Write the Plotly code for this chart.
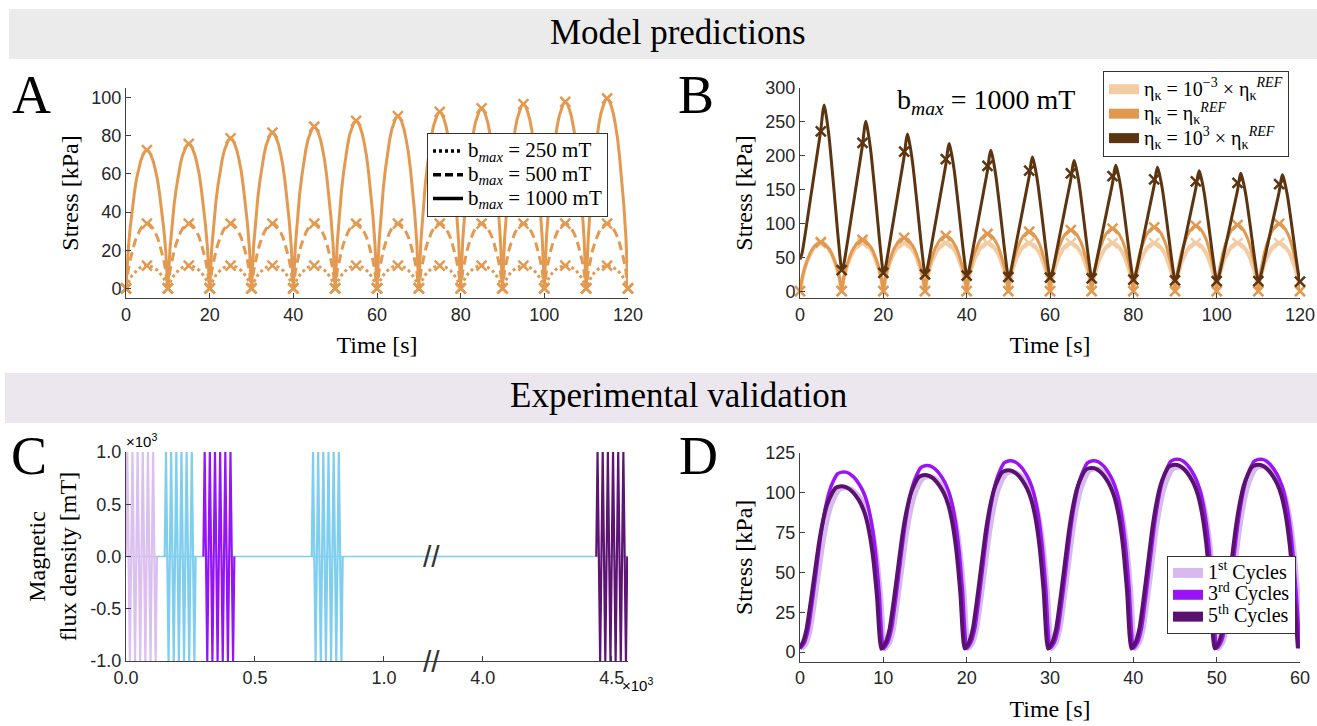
import plotly.graph_objects as go

W, H = 1317, 726

# ---------------- Panel A: model predictions, three field amplitudes ----------------
A_CYCLE_START = [0, 10, 20, 30, 40, 50, 60, 70, 80, 90, 100, 110]
A_ARCH_DT = [0, 0.5, 1, 1.5, 2, 2.5, 3, 3.5, 4, 4.5, 5, 5.5, 6, 6.5, 7, 7.5, 8, 8.5, 9, 9.5, 10]
A_ARCH_SHAPE = [0, 0.27, 0.44, 0.58, 0.69, 0.79, 0.86, 0.92, 0.96, 0.99, 1.0,
                0.99, 0.96, 0.92, 0.86, 0.79, 0.69, 0.58, 0.44, 0.27, 0]
A_PEAK_250 = [12, 12, 12, 12, 12, 12, 12, 12, 12, 12, 12, 12]
A_PEAK_500 = [34, 34, 34, 34, 34, 34, 34, 34, 34, 34, 34, 34]
A_PEAK_1000 = [72.5, 75.7, 78.6, 81.6, 84.7, 87.8, 90.3, 92.5, 94.3, 96.5, 97.7, 99.5]
A_ZERO_T = [0, 10, 20, 30, 40, 50, 60, 70, 80, 90, 100, 110, 120]
A_LABELS = ["b<sub><i>max</i></sub> = 250 mT",
            "b<sub><i>max</i></sub> = 500 mT",
            "b<sub><i>max</i></sub> = 1000 mT"]

# ---------------- Panel B: model predictions, three viscosities ----------------
B_PEAK_LOW = [71, 71, 71, 71, 71, 71, 71, 71, 71, 71, 71, 71]
B_PEAK_REF = [72.5, 75.7, 78.6, 81.6, 84.7, 87.8, 90.3, 92.5, 94.3, 96.5, 97.7, 99.5]
B_HIGH_START = 47
B_HIGH_MIN = [31, 27, 25, 23, 21, 20, 19, 17, 16, 15, 15, 14]          # at t = 10 ... 120
B_HIGH_PEAK = [275, 251, 232, 218, 208, 198, 193, 186, 183, 178, 174, 172]
B_HIGH_MARK = [236, 219, 206, 195, 185, 178, 174, 170, 165, 162, 160, 158]  # at t = 5 ... 115
B_RISE_DT = [0, 0.5, 1, 2, 3, 4, 5, 5.5, 5.8]
B_RISE_SHAPE = [0, 0.04, 0.12, 0.3, 0.48, 0.66, 0.84, 0.96, 1.0]
B_FALL_DT = [6.2, 7, 8, 9, 9.6, 10]
B_FALL_SHAPE = [0.95, 0.8, 0.53, 0.24, 0.08, 0]
B_LABELS = ["η<sub>κ</sub> = 10<sup>−3</sup> × η<sub>κ</sub><sup><i>REF</i></sup>",
            "η<sub>κ</sub> = η<sub>κ</sub><sup><i>REF</i></sup>",
            "η<sub>κ</sub> = 10<sup>3</sup> × η<sub>κ</sub><sup><i>REF</i></sup>"]

# ---------------- Panel C: applied magnetic flux density ----------------
C_BURST_T = [0, 5, 15, 25, 35, 45, 55, 65, 75, 85, 95, 105, 115, 120]
C_BURST_B = [0, 1000, -1000, 1000, -1000, 1000, -1000, 1000, -1000, 1000, -1000, 1000, -1000, 0]
C_BURST_START = [0, 150, 300, 720, 4440]
C_BASE_T = [0, 4563]
C_BASE_B = [0, 0]
C_LEFT_TICKS = [0, 500, 1000]
C_LEFT_TICKTEXT = ["0.0", "0.5", "1.0"]
C_RIGHT_TICKS = [4000, 4500]
C_RIGHT_TICKTEXT = ["4.0", "4.5"]
C_Y_TICKS = [-1000, -500, 0, 500, 1000]
C_Y_TICKTEXT = ["-1.0", "-0.5", "0.0", "0.5", "1.0"]

# ---------------- Panel D: experimental stress ----------------
D_CYCLE_START = [0, 10, 20, 30, 40, 50]
D_ARCH_DT = [0, 0.5, 1, 1.5, 2, 2.5, 3, 3.5, 4, 4.5, 5, 5.5, 6, 6.5, 7, 7.5, 8, 8.5, 9, 9.5, 10]
D_ARCH_SHAPE = [0.02, 0.05, 0.13, 0.29, 0.47, 0.65, 0.79, 0.89, 0.95, 0.99, 1.0,
                1.0, 0.99, 0.97, 0.94, 0.9, 0.84, 0.74, 0.58, 0.33, 0.02]
D_PEAK_1ST = [103, 110, 113, 115, 116, 116.5]
D_PEAK_3RD = [113, 117, 120, 120, 121, 121]
D_PEAK_5TH = [104, 111, 114, 115.5, 117.5, 117.5]
D_SHIFT = {"1st": 0.2, "3rd": 0.0, "5th": -0.25}
D_LABELS = ["1<sup>st</sup> Cycles", "3<sup>rd</sup> Cycles", "5<sup>th</sup> Cycles"]

# ---------------- colours ----------------
ORANGE = "#e39a50"
B_COLORS = ["#f3cca3", "#e1984f", "#5c3410"]
C_COLORS = ["#dbbff0", "#7fcdef", "#9414f7", "#7fcdef", "#5e1473"]
D_COLORS = ["#d8b9ee", "#9b14f5", "#5a1270"]
AXC = "#404040"
SERIF = "Liberation Serif"
SANS = "Liberation Sans"


def arches(starts, dts, shape, peaks, shift=0.0):
    xs, ys = [], []
    for k, (s, p) in enumerate(zip(starts, peaks)):
        for j, (dt, f) in enumerate(zip(dts, shape)):
            if k > 0 and j == 0:
                continue
            xs.append(s + dt + shift)
            ys.append(p * f)
    return xs, ys


def high_visc_curve():
    xs, ys = [], []
    left = B_HIGH_START
    for k in range(len(B_HIGH_PEAK)):
        s = A_CYCLE_START[k]
        P, R = B_HIGH_PEAK[k], B_HIGH_MIN[k]
        for j, (dt, f) in enumerate(zip(B_RISE_DT, B_RISE_SHAPE)):
            if k > 0 and j == 0:
                continue
            xs.append(s + dt)
            ys.append(left + f * (P - left))
        for dt, f in zip(B_FALL_DT, B_FALL_SHAPE):
            xs.append(s + dt)
            ys.append(R + f * (P - R))
        left = R
    return xs, ys


def big(text, size):
    return f"<span style='font-size:{size}px'>{text}</span>"


fig = go.Figure()

# ---- Panel A traces ----
dashes = ["3px,3px", "9px,5px", "solid"]
for peaks, dash in zip([A_PEAK_250, A_PEAK_500, A_PEAK_1000], dashes):
    x, y = arches(A_CYCLE_START, A_ARCH_DT, A_ARCH_SHAPE, peaks)
    fig.add_trace(go.Scatter(x=x, y=y, mode="lines", line=dict(color=ORANGE, width=3, dash=dash),
                             showlegend=False, xaxis="x", yaxis="y", hoverinfo="skip"))
    mx = [s + 5 for s in A_CYCLE_START] + A_ZERO_T
    my = list(peaks) + [0] * len(A_ZERO_T)
    fig.add_trace(go.Scatter(x=mx, y=my, mode="markers", cliponaxis=False,
                             marker=dict(symbol="x-thin", size=10, line=dict(color=ORANGE, width=2.5)),
                             showlegend=False, xaxis="x", yaxis="y", hoverinfo="skip"))
for lab, dash in zip(A_LABELS, ["3px,3px", "8px,4px", "solid"]):
    fig.add_trace(go.Scatter(x=[None], y=[None], mode="lines", name=big(lab, 21),
                             line=dict(color="black", width=3.5, dash=dash),
                             legend="legend", xaxis="x", yaxis="y"))

# ---- Panel B traces ----
for peaks, col, w in zip([B_PEAK_LOW, B_PEAK_REF], B_COLORS[:2], [4, 3]):
    x, y = arches(A_CYCLE_START, A_ARCH_DT, A_ARCH_SHAPE, peaks)
    fig.add_trace(go.Scatter(x=x, y=y, mode="lines", line=dict(color=col, width=w),
                             showlegend=False, xaxis="x2", yaxis="y2", hoverinfo="skip"))
    mx = [s + 5 for s in A_CYCLE_START] + A_ZERO_T
    my = list(peaks) + [0] * len(A_ZERO_T)
    fig.add_trace(go.Scatter(x=mx, y=my, mode="markers", cliponaxis=False,
                             marker=dict(symbol="x-thin", size=10, line=dict(color=col, width=2.5)),
                             showlegend=False, xaxis="x2", yaxis="y2", hoverinfo="skip"))
x, y = high_visc_curve()
fig.add_trace(go.Scatter(x=x, y=y, mode="lines", line=dict(color=B_COLORS[2], width=3, shape="spline", smoothing=0.6),
                         showlegend=False, xaxis="x2", yaxis="y2", hoverinfo="skip"))
mx = [s + 5 for s in A_CYCLE_START] + A_ZERO_T[1:]
my = B_HIGH_MARK + B_HIGH_MIN
fig.add_trace(go.Scatter(x=mx, y=my, mode="markers", cliponaxis=False,
                         marker=dict(symbol="x-thin", size=10, line=dict(color=B_COLORS[2], width=2.5)),
                         showlegend=False, xaxis="x2", yaxis="y2", hoverinfo="skip"))
for lab, col in zip(B_LABELS, B_COLORS):
    fig.add_trace(go.Scatter(x=[None], y=[None], mode="lines", name=big(lab, 20),
                             line=dict(color=col, width=10),
                             legend="legend2", xaxis="x2", yaxis="y2"))

# ---- Panel C traces ----
for xa, ya in [("x3", "y3"), ("x4", "y4")]:
    fig.add_trace(go.Scatter(x=C_BASE_T, y=C_BASE_B, mode="lines", line=dict(color=C_COLORS[1], width=1.5),
                             showlegend=False, xaxis=xa, yaxis=ya, hoverinfo="skip"))
for start, col in zip(C_BURST_START, C_COLORS):
    xa, ya = ("x3", "y3") if start < 2000 else ("x4", "y4")
    fig.add_trace(go.Scatter(x=[start + t for t in C_BURST_T], y=C_BURST_B, mode="lines",
                             line=dict(color=col, width=2.2),
                             showlegend=False, xaxis=xa, yaxis=ya, hoverinfo="skip"))

# ---- Panel D traces ----
for key, peaks, col, w in zip(["1st", "3rd", "5th"], [D_PEAK_1ST, D_PEAK_3RD, D_PEAK_5TH], D_COLORS, [5, 3.5, 4]):
    x, y = arches(D_CYCLE_START, D_ARCH_DT, D_ARCH_SHAPE, peaks, D_SHIFT[key])
    fig.add_trace(go.Scatter(x=x, y=y, mode="lines", line=dict(color=col, width=w, shape="spline", smoothing=0.5),
                             showlegend=False, xaxis="x5", yaxis="y5", hoverinfo="skip"))
for lab, col in zip(D_LABELS, D_COLORS):
    fig.add_trace(go.Scatter(x=[None], y=[None], mode="lines", name=big(lab, 20),
                             line=dict(color=col, width=10),
                             legend="legend3", xaxis="x5", yaxis="y5"))


def px(v):
    return v / W


def py(v):
    return 1 - v / H


tickfont = dict(family=SANS, size=18, color="#262626")
titlefont = dict(family=SERIF, size=24, color="black")
common = dict(showline=True, linecolor=AXC, linewidth=1, ticks="inside", ticklen=5, tickcolor=AXC,
              showgrid=False, zeroline=False, tickfont=tickfont, mirror=False, automargin=False)

fig.update_layout(
    template="none",
    width=W, height=H, autosize=False,
    margin=dict(l=0, r=0, t=0, b=0, pad=0),
    paper_bgcolor="white", plot_bgcolor="white",
    xaxis=dict(domain=[px(126), px(628)], anchor="y", range=[0, 120], tickvals=[0, 20, 40, 60, 80, 100, 120],
               title=dict(text="Time [s]", font=titlefont, standoff=12), **common),
    yaxis=dict(domain=[py(298), py(88)], anchor="x", range=[-5, 105], tickvals=[0, 20, 40, 60, 80, 100],
               title=dict(text="Stress [kPa]", font=titlefont, standoff=5), **common),
    xaxis2=dict(domain=[px(800), px(1300)], anchor="y2", range=[0, 120], tickvals=[0, 20, 40, 60, 80, 100, 120],
                title=dict(text="Time [s]", font=titlefont, standoff=12), **common),
    yaxis2=dict(domain=[py(298), py(88)], anchor="x2", range=[-10, 300], tickvals=[0, 50, 100, 150, 200, 250, 300],
                title=dict(text="Stress [kPa]", font=titlefont, standoff=5), **common),
    xaxis3=dict(domain=[px(126), px(431.7)], anchor="y3", range=[0, 1185], tickvals=C_LEFT_TICKS,
                ticktext=C_LEFT_TICKTEXT, **common),
    yaxis3=dict(domain=[py(661), py(452)], anchor="x3", range=[-1000, 1000], tickvals=C_Y_TICKS,
                ticktext=C_Y_TICKTEXT,
                title=dict(text="Magnetic<br>flux density [mT]", font=titlefont, standoff=6), **common),
    xaxis4=dict(domain=[px(431.7), px(628)], anchor="y4", range=[3802, 4563], tickvals=C_RIGHT_TICKS,
                ticktext=C_RIGHT_TICKTEXT, **common),
    yaxis4=dict(domain=[py(661), py(452)], anchor="x4", range=[-1000, 1000], visible=False),
    xaxis5=dict(domain=[px(800), px(1300)], anchor="y5", range=[0, 60], tickvals=[0, 10, 20, 30, 40, 50, 60],
                title=dict(text="Time [s]", font=titlefont, standoff=12), **common),
    yaxis5=dict(domain=[py(661.7), py(453)], anchor="x5", range=[-6, 125], tickvals=[0, 25, 50, 75, 100, 125],
                title=dict(text="Stress [kPa]", font=titlefont, standoff=5), **common),
    legend=dict(x=px(427), y=py(133), xanchor="left", yanchor="top", bgcolor="white",
                bordercolor="#333333", borderwidth=1, font=dict(family=SERIF, size=16, color="black"),
                itemwidth=30, tracegroupgap=0),
    legend2=dict(x=px(1103), y=py(71), xanchor="left", yanchor="top", bgcolor="white",
                 bordercolor="#333333", borderwidth=1, font=dict(family=SERIF, size=16.5, color="black"),
                 itemwidth=30, tracegroupgap=0),
    legend3=dict(x=px(1167), y=py(556), xanchor="left", yanchor="top", bgcolor="white",
                 bordercolor="#333333", borderwidth=1, font=dict(family=SERIF, size=14.5, color="black"),
                 itemwidth=30, tracegroupgap=0),
    shapes=[
        dict(type="rect", xref="paper", yref="paper", x0=px(9), x1=1, y0=py(59), y1=py(9),
             fillcolor="#ebebeb", line=dict(width=0), layer="below"),
        dict(type="rect", xref="paper", yref="paper", x0=px(5), x1=1, y0=py(423), y1=py(373),
             fillcolor="#ece6ee", line=dict(width=0), layer="below"),
    ],
)

ann = [
    dict(text="Model predictions", x=px(678), y=py(33), font=dict(family=SERIF, size=35)),
    dict(text="Experimental validation", x=px(678), y=py(396), font=dict(family=SERIF, size=35)),
    dict(text="A", x=px(31), y=py(95), font=dict(family=SERIF, size=54)),
    dict(text="B", x=px(696), y=py(95), font=dict(family=SERIF, size=54)),
    dict(text="C", x=px(29), y=py(456), font=dict(family=SERIF, size=54)),
    dict(text="D", x=px(698), y=py(456), font=dict(family=SERIF, size=54)),
    dict(text="b<sub><i>max</i></sub> = 1000 mT", x=px(986), y=py(101), font=dict(family=SERIF, size=28)),
    dict(text="×10<sup>3</sup>", x=px(124), y=py(440), xanchor="left", font=dict(family=SANS, size=15)),
    dict(text="×10<sup>3</sup>", x=px(620), y=py(684), xanchor="left", font=dict(family=SANS, size=15)),
]
for a in ann:
    a.setdefault("xanchor", "center")
    fig.add_annotation(xref="paper", yref="paper", showarrow=False, yanchor="middle",
                       font_color="black", **a)

# axis-break marks on the zero line and on the bottom axis of panel C
for yv in [0, -1000]:
    fig.add_annotation(xref="x4", yref="y4", x=3802, y=yv, text="//", showarrow=False,
                       font=dict(family=SANS, size=30, color="#333333"))

fig.write_html("out.html")
